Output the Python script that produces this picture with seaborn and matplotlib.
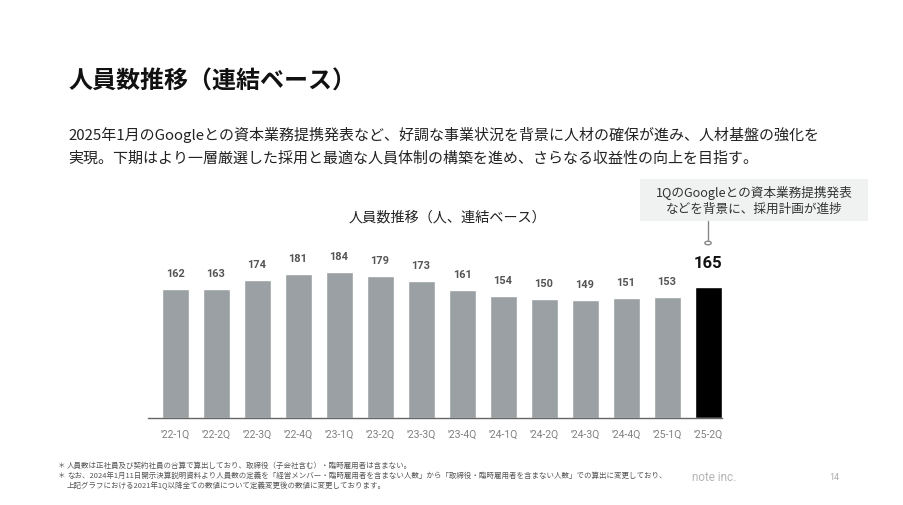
import matplotlib
matplotlib.use('Agg')
import matplotlib.pyplot as plt
import seaborn as sns
import pandas as pd

sns.set_style('white')
plt.rcParams['font.family'] = ['Noto Sans CJK JP', 'DejaVu Sans']

quarters = ["'22-1Q", "'22-2Q", "'22-3Q", "'22-4Q", "'23-1Q", "'23-2Q", "'23-3Q",
            "'23-4Q", "'24-1Q", "'24-2Q", "'24-3Q", "'24-4Q", "'25-1Q", "'25-2Q"]
headcount = [162, 163, 174, 181, 184, 179, 173, 161, 154, 150, 149, 151, 153, 165]

df = pd.DataFrame({'quarter': quarters, 'headcount': headcount})
colors = ['#9aa0a4'] * (len(quarters) - 1) + ['#000000']

fig = plt.figure(figsize=(9.04, 5.06), dpi=100)
ax = fig.add_axes([148 / 904, 87 / 506, 574 / 904, 182.5 / 506])

sns.barplot(data=df, x='quarter', y='headcount', hue='quarter', palette=colors,
            legend=False, width=0.66, ax=ax, saturation=1)

ax.set_xlim(-0.66, len(quarters) - 0.66)
ax.set_ylim(0, 230)
ax.set_xlabel('')
ax.set_ylabel('')
ax.set_yticks([])
for s in ['top', 'right', 'left']:
    ax.spines[s].set_visible(False)
ax.spines['bottom'].set_color('#666666')
ax.spines['bottom'].set_linewidth(1.0)
ax.tick_params(axis='x', length=0, pad=8, labelsize=7.5, labelcolor='#808080')
for lab in ax.get_xticklabels():
    lab.set_family(['Roboto', 'DejaVu Sans'])

# value labels
for i, v in enumerate(headcount):
    if i == len(headcount) - 1:
        ax.annotate(str(v), (i, v), xytext=(0, 18), textcoords='offset points',
                    ha='center', va='center', fontsize=12, fontweight='bold',
                    color='#111111', family=['Roboto', 'DejaVu Sans'])
    else:
        ax.annotate(str(v), (i, v), xytext=(0, 11.5), textcoords='offset points',
                    ha='center', va='center', fontsize=7.9, fontweight='bold',
                    color='#555555', family=['Roboto', 'DejaVu Sans'])

# callout line and marker
fig.add_artist(plt.Line2D([708 / 904, 708 / 904], [1 - 222 / 506, 1 - 241 / 506],
                          color='#888888', lw=1))
fig.add_artist(plt.Circle((708 / 904, 1 - 244 / 506), 0.0035, transform=fig.transFigure,
                          facecolor='white', edgecolor='#888888', lw=1))
fig.add_artist(plt.Rectangle((640 / 904, 1 - 222 / 506), 228 / 904, 42 / 506,
                             transform=fig.transFigure, facecolor='#f0f1f1',
                             edgecolor='none'))
fig.text(754 / 904, 1 - 201 / 506, '1QのGoogleとの資本業務提携発表\nなどを背景に、採用計画が進捗',
         ha='center', va='center', fontsize=9.1, color='#333333', linespacing=1.3)

# headings
fig.text(68 / 904, 1 - 82 / 506, '人員数推移（連結ベース）', fontsize=17.3,
         fontweight='bold', color='#111111', va='center', ha='left')
fig.text(68 / 904, 1 - 135 / 506,
         '2025年1月のGoogleとの資本業務提携発表など、好調な事業状況を背景に人材の確保が進み、人材基盤の強化を',
         fontsize=10.8, color='#222222', va='center', ha='left')
fig.text(68 / 904, 1 - 158 / 506,
         '実現。下期はより一層厳選した採用と最適な人員体制の構築を進め、さらなる収益性の向上を目指す。',
         fontsize=10.8, color='#222222', va='center', ha='left')
fig.text(447 / 904, 1 - 218 / 506, '人員数推移（人、連結ベース）', fontsize=10.2,
         color='#222222', va='center', ha='center')

# footnotes
notes = [
    '人員数は正社員及び契約社員の合算で算出しており、取締役（子会社含む）・臨時雇用者は含まない。',
    'なお、2024年1月11日開示決算説明資料より人員数の定義を「経営メンバー・臨時雇用者を含まない人数」から「取締役・臨時雇用者を含まない人数」での算出に変更しており、',
    '上記グラフにおける2021年1Q以降全ての数値について定義変更後の数値に変更しております。',
]
for k, y in enumerate([466, 476, 486]):
    if k < 2:
        fig.text(58 / 904, 1 - y / 506, '＊', fontsize=5.4, color='#555555', va='center')
    fig.text(67 / 904, 1 - y / 506, notes[k], fontsize=5.4, color='#555555', va='center')

fig.text(692 / 904, 1 - 478 / 506, 'note inc.', fontsize=8.5, color='#b5b5b5',
         va='center', family=['Roboto', 'DejaVu Sans'])
fig.text(834 / 904, 1 - 478 / 506, '14', fontsize=6.5, color='#aaaaaa', va='center',
         ha='center', family=['Roboto', 'DejaVu Sans'])

fig.savefig('out.png', dpi=100)
